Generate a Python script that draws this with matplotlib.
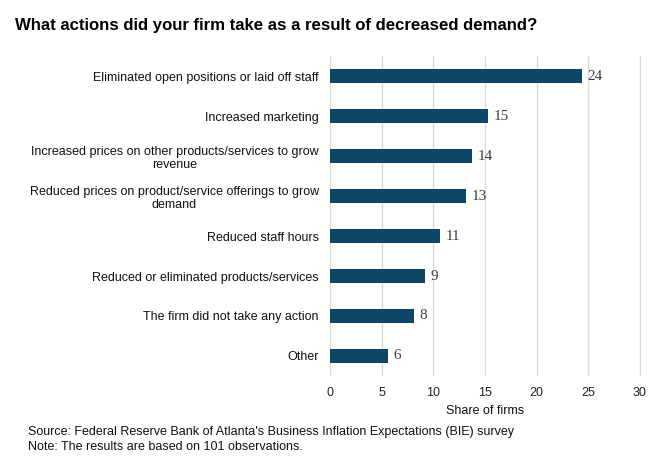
import matplotlib
matplotlib.use("Agg")
import matplotlib.pyplot as plt

categories = [
    "Eliminated open positions or laid off staff",
    "Increased marketing",
    "Increased prices on other products/services to grow\nrevenue",
    "Reduced prices on product/service offerings to grow\ndemand",
    "Reduced staff hours",
    "Reduced or eliminated products/services",
    "The firm did not take any action",
    "Other",
]
values = [24.4, 15.3, 13.7, 13.2, 10.6, 9.2, 8.1, 5.6]
xticks = [0, 5, 10, 15, 20, 25, 30]

plt.rcParams['font.family'] = ['Liberation Sans', 'DejaVu Sans']

fig = plt.figure(figsize=(6.67, 4.68), dpi=100)
ax = fig.add_axes([0.4948, 0.1966, 0.4662, 0.6837])

y = list(range(len(categories)))
ax.barh(y, values, height=0.33, color="#0F4565", zorder=3)
for yi, v in zip(y, values):
    ax.text(v + 0.55, yi, f"{round(v)}", va="center", ha="left",
            fontsize=11, color="#404040", family=["Liberation Serif"])

ax.set_ylim(len(categories) - 0.5, -0.5)
ax.set_xlim(0, 30.1)
ax.set_xticks(xticks)
ax.set_xticklabels([str(t) for t in xticks], fontsize=9, color="#222222")
ax.set_yticks(y)
ax.set_yticklabels(categories, fontsize=9, color="#111111", ha="right",
                   multialignment="center")
ax.tick_params(axis="y", length=0, pad=8)
ax.tick_params(axis="x", length=0, pad=8)
ax.grid(axis="x", color="#D9D9D9", linewidth=1, zorder=0)
for s in ax.spines.values():
    s.set_visible(False)
ax.set_xlabel("Share of firms", fontsize=9, color="#111111", labelpad=4)

fig.text(0.0225, 0.945, "What actions did your firm take as a result of decreased demand?",
         fontsize=12.1, fontweight="bold", color="#000000", va="center")
fig.text(0.042, 0.077, "Source: Federal Reserve Bank of Atlanta's Business Inflation Expectations (BIE) survey",
         fontsize=9, color="#111111", va="center")
fig.text(0.042, 0.045, "Note: The results are based on 101 observations.",
         fontsize=9, color="#111111", va="center")

fig.savefig("out.png", dpi=100, facecolor="white")
